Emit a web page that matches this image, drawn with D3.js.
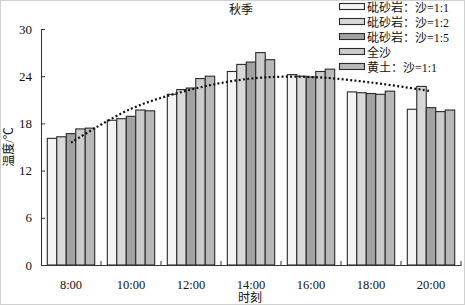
<!DOCTYPE html>
<html><head><meta charset="utf-8">
<script src="https://cdn.jsdelivr.net/npm/d3@7"></script>
<style>
body{margin:0;background:#fff;}
text{font-family:"Liberation Serif","Noto Sans CJK SC",serif;fill:#111;}
</style></head>
<body><svg id="c" width="465" height="305"></svg>
<script>
const categories = ["8:00","10:00","12:00","14:00","16:00","18:00","20:00"];
const seriesNames = ["砒砂岩：沙=1:1","砒砂岩：沙=1:2","砒砂岩：沙=1:5","全沙","黄土：沙=1:1"];
const s1 = [16.1, 18.4, 21.7, 24.6, 24.2, 22.0, 19.8];
const s2 = [16.3, 18.6, 22.3, 25.5, 24.0, 21.9, 22.7];
const s3 = [16.7, 18.9, 22.5, 25.8, 23.9, 21.8, 20.0];
const s4 = [17.3, 19.7, 23.7, 27.0, 24.6, 21.7, 19.5];
const s5 = [17.4, 19.6, 24.0, 26.1, 24.9, 22.1, 19.7];
const trend = [15.55, 19.85, 22.3, 23.7, 23.9, 23.2, 22.1];
const yTicks = [0, 6, 12, 18, 24, 30];
const colors = ["#f4f4f4","#d8d8d8","#a2a2a2","#cbcbcb","#b8b8b8"];
const series = [s1,s2,s3,s4,s5];

const svg = d3.select("#c");
svg.append("rect").attr("x",0.5).attr("y",0.5).attr("width",464).attr("height",304)
  .attr("fill","none").attr("stroke","#d0d0d0");

const m = {l:41, r:461, t:29, b:265};
const x = d3.scaleBand().domain(categories).range([m.l, m.r]).paddingInner(0).paddingOuter(0);
const xi = d3.scaleBand().domain(d3.range(5)).range([6.3, 60-6.3]);
const y = d3.scaleLinear().domain([0,30]).range([m.b, m.t]);

// bars
const g = svg.append("g");
categories.forEach((c, ci) => {
  series.forEach((s, si) => {
    g.append("rect")
      .attr("x", x(c) + xi(si))
      .attr("y", y(s[ci]))
      .attr("width", xi.bandwidth())
      .attr("height", y(0) - y(s[ci]))
      .attr("fill", colors[si])
      .attr("stroke", "#2a2a2a").attr("stroke-width", 1.1);
  });
});

// trend line
const line = d3.line().x((d,i)=>x(categories[i]) + x.bandwidth()/2).y(d=>y(d)).curve(d3.curveCatmullRom);
svg.append("path").datum(trend).attr("d", line).attr("fill","none")
  .attr("stroke","#111").attr("stroke-width",2.2).attr("stroke-dasharray","2,2.3");

// y axis
const ya = svg.append("g").attr("transform",`translate(${m.l},0)`)
  .call(d3.axisLeft(y).tickValues(yTicks).tickSize(-4).tickPadding(9).tickFormat(d3.format("d")));
ya.select(".domain").attr("stroke","#333");
ya.selectAll(".tick line").attr("stroke","#333");
ya.selectAll("text").attr("font-size",13).attr("fill","#111");

// x axis
const xa = svg.append("g").attr("transform",`translate(0,${m.b})`)
  .call(d3.axisBottom(x).tickSize(0).tickPadding(15));
xa.select(".domain").attr("stroke","#333");
xa.selectAll("text").attr("font-size",12.5).attr("fill","#111");
// boundary ticks (inward)
categories.forEach((c,i)=>{
  if(i===0) return;
  svg.append("line").attr("x1",x(c)).attr("x2",x(c)).attr("y1",m.b).attr("y2",m.b-4).attr("stroke","#333");
});
svg.append("line").attr("x1",m.r).attr("x2",m.r).attr("y1",m.b).attr("y2",m.b-4).attr("stroke","#333");

// titles
svg.append("text").attr("x",241).attr("y",14).attr("text-anchor","middle").attr("font-size",12).text("秋季");
svg.append("text").attr("x",250).attr("y",302).attr("text-anchor","middle").attr("font-size",12).text("时刻");
svg.append("text").attr("transform","translate(13,147) rotate(-90)").attr("text-anchor","middle")
  .attr("font-size",12).text("温度/℃");

// legend
const lg = svg.append("g");
seriesNames.forEach((n,i)=>{
  const yy = 3.5 + i*15;
  lg.append("rect").attr("x",339.5).attr("y",yy).attr("width",25).attr("height",6)
    .attr("fill",colors[i]).attr("stroke","#2a2a2a").attr("stroke-width",1.1);
  lg.append("text").attr("x",367).attr("y",yy+8).attr("font-size",12).text(n);
});
</script></body></html>
